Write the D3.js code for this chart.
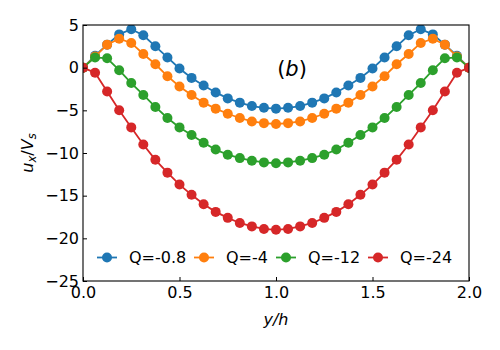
<!DOCTYPE html>
<html><head><meta charset="utf-8">
<script src="https://cdn.jsdelivr.net/npm/d3@7"></script>
<style>body{margin:0;background:#fff}svg{display:block}text{font-family:"DejaVu Sans",sans-serif;fill:#000}</style>
</head><body><svg id="c" width="500" height="350"></svg>
<script>
const yOverH = d3.range(33).map(i => i * 0.0625);
const seriesNames = ["Q=-0.8", "Q=-4", "Q=-12", "Q=-24"];
const q08 = [0, 1.4, 2.7, 3.9, 4.5, 3.8, 2.5, 1.2, -0.1, -1.2, -2.1, -2.9, -3.6, -4.1, -4.5, -4.7, -4.8,
  -4.7, -4.5, -4.1, -3.6, -2.9, -2.1, -1.2, -0.1, 1.2, 2.5, 3.8, 4.5, 3.9, 2.7, 1.4, 0];
const q4 = [0, 1.3, 2.7, 3.4, 2.9, 1.6, 0.4, -1.0, -2.2, -3.2, -4.1, -4.8, -5.4, -5.9, -6.3, -6.5, -6.6,
  -6.5, -6.3, -5.9, -5.4, -4.8, -4.1, -3.2, -2.2, -1.0, 0.4, 1.6, 2.9, 3.4, 2.7, 1.3, 0];
const q12 = [0, 1.2, 1.1, -0.3, -1.8, -3.2, -4.6, -5.9, -7.0, -7.9, -8.8, -9.6, -10.2, -10.6, -10.9, -11.1, -11.2,
  -11.1, -10.9, -10.6, -10.2, -9.6, -8.8, -7.9, -7.0, -5.9, -4.6, -3.2, -1.8, -0.3, 1.1, 1.2, 0];
const q24 = [0, -0.6, -2.8, -5.0, -7.0, -9.0, -10.8, -12.3, -13.7, -14.9, -16.0, -16.9, -17.6, -18.2, -18.6, -18.9, -19.0,
  -18.9, -18.6, -18.2, -17.6, -16.9, -16.0, -14.9, -13.7, -12.3, -10.8, -9.0, -7.0, -5.0, -2.8, -0.6, 0];
const xTicks = [0, 0.5, 1.0, 1.5, 2.0];
const yTicks = [5, 0, -5, -10, -15, -20, -25];
const colors = ["#1f77b4", "#ff7f0e", "#2ca02c", "#d62728"];
const allSeries = [q08, q4, q12, q24];

const svg = d3.select("#c");
const L = 83, R = 469, T = 25, B = 281;
const x = d3.scaleLinear().domain([0, 2]).range([L, R]);
const y = d3.scaleLinear().domain([-25, 5]).range([B, T]);

svg.append("defs").append("clipPath").attr("id", "clip")
  .append("rect").attr("x", L).attr("y", T).attr("width", R - L).attr("height", B - T);

const g = svg.append("g").attr("clip-path", "url(#clip)");
const line = d3.line().x((d, i) => x(yOverH[i])).y(d => y(d));
allSeries.forEach((s, k) => {
  g.append("path").attr("d", line(s)).attr("fill", "none").attr("stroke", colors[k]).attr("stroke-width", 1.8);
  g.selectAll(null).data(s).enter().append("circle")
    .attr("cx", (d, i) => x(yOverH[i])).attr("cy", d => y(d)).attr("r", 5).attr("fill", colors[k]);
});

// axes
const fmtX = d => d.toFixed(1);
const fmtY = d => (d < 0 ? "\u2212" + Math.abs(d) : "" + d);
const xa = svg.append("g").attr("transform", `translate(0,${B})`)
  .call(d3.axisBottom(x).tickValues(xTicks).tickFormat(fmtX).tickSizeInner(-4).tickSizeOuter(0).tickPadding(6));
const ya = svg.append("g").attr("transform", `translate(${L},0)`)
  .call(d3.axisLeft(y).tickValues(yTicks).tickFormat(fmtY).tickSizeInner(-4).tickSizeOuter(0).tickPadding(4));
[xa, ya].forEach(a => {
  a.select(".domain").remove();
  a.selectAll(".tick line").attr("stroke", "#000").attr("stroke-width", 1);
  a.selectAll(".tick text").attr("font-size", 16).attr("font-family", "DejaVu Sans").attr("fill", "#000");
});

svg.append("rect").attr("x", L).attr("y", T).attr("width", R - L).attr("height", B - T)
  .attr("fill", "none").attr("stroke", "#000").attr("stroke-width", 1.1);

// panel label
svg.append("text").attr("x", 292).attr("y", 76).attr("text-anchor", "middle").attr("font-size", 21)
  .html('(<tspan font-style="italic">b</tspan>)');

// axis labels
svg.append("text").attr("x", x(1)).attr("y", 325).attr("text-anchor", "middle").attr("font-size", 16)
  .attr("font-style", "italic").text("y/h");
const yl = svg.append("text").attr("transform", "translate(33,153) rotate(-90)").attr("text-anchor", "middle").attr("font-size", 16);
yl.append("tspan").attr("font-style", "italic").text("u");
yl.append("tspan").attr("font-style", "italic").attr("font-size", 11.5).attr("dy", 3).text("x");
yl.append("tspan").attr("dy", -3).text("/");
yl.append("tspan").attr("font-style", "italic").text("V");
yl.append("tspan").attr("font-style", "italic").attr("font-size", 11.5).attr("dy", 3).text("s");

// legend
const legX = [107, 204, 286, 378];
const legY = 257.5;
seriesNames.forEach((n, k) => {
  const lg = svg.append("g").attr("transform", `translate(${legX[k]},${legY})`);
  lg.append("line").attr("x1", -10).attr("x2", 10).attr("y1", 0).attr("y2", 0).attr("stroke", colors[k]).attr("stroke-width", 1.8);
  lg.append("circle").attr("cx", 0).attr("cy", 0).attr("r", 5).attr("fill", colors[k]);
  lg.append("text").attr("x", 22).attr("y", 5.8).attr("font-size", 16).text(n);
});
</script></body></html>
